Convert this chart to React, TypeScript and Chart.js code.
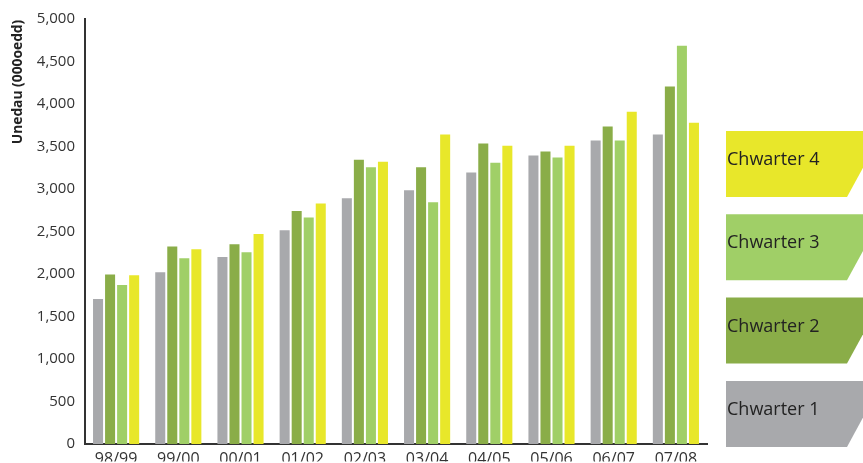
import React, { useEffect, useRef } from "react";
import { Chart, registerables } from "chart.js";

Chart.register(...registerables);

const categories = ["98/99", "99/00", "00/01", "01/02", "02/03", "03/04", "04/05", "05/06", "06/07", "07/08"];
const quarter1 = [1705, 2020, 2200, 2515, 2890, 2985, 3195, 3395, 3570, 3640];
const quarter2 = [1995, 2325, 2350, 2740, 3345, 3255, 3535, 3440, 3735, 4205];
const quarter3 = [1870, 2185, 2255, 2665, 3255, 2845, 3310, 3370, 3570, 4685];
const quarter4 = [1985, 2290, 2470, 2830, 3320, 3640, 3510, 3510, 3910, 3780];
const seriesNames = ["Chwarter 1", "Chwarter 2", "Chwarter 3", "Chwarter 4"];
const seriesColors = ["#A8A9AC", "#8AAD48", "#A0CF67", "#E8E72A"];
const yTitle = "Unedau (000oedd)";
const yMax = 5000;
const yStep = 500;

const FONT = "'Open Sans', 'Noto Sans', sans-serif";

const sideLegend = {
  id: "sideLegend",
  afterDraw(chart: any) {
    const ctx = chart.ctx;
    // y-axis title
    ctx.save();
    ctx.translate(18, 82);
    ctx.rotate(-Math.PI / 2);
    ctx.font = `bold 13.8px ${FONT}`;
    ctx.fillStyle = "#222";
    ctx.textAlign = "center";
    ctx.textBaseline = "middle";
    ctx.fillText(yTitle, 0, 0);
    ctx.restore();

    // legend boxes (top: Chwarter 4, bottom: Chwarter 1)
    const left = 726;
    const h = 66;
    const gap = 83.3;
    const firstTop = 131;
    ctx.save();
    for (let k = 0; k < 4; k++) {
      const idx = 3 - k;
      const top = firstTop + k * gap;
      const bottom = top + h;
      ctx.beginPath();
      ctx.moveTo(left, top);
      ctx.lineTo(883, top);
      ctx.lineTo(847, bottom);
      ctx.lineTo(left, bottom);
      ctx.closePath();
      ctx.fillStyle = seriesColors[idx];
      ctx.fill();
      ctx.font = `18px ${FONT}`;
      ctx.fillStyle = "#222";
      ctx.textAlign = "left";
      ctx.textBaseline = "alphabetic";
      ctx.fillText(seriesNames[idx], left + 1, top + 34);
    }
    ctx.restore();
  },
};

export default function App() {
  const ref = useRef<HTMLCanvasElement | null>(null);
  useEffect(() => {
    if (!ref.current) return;
    const chart = new Chart(ref.current, {
      type: "bar",
      data: {
        labels: categories,
        datasets: [quarter1, quarter2, quarter3, quarter4].map((d, i) => ({
          label: seriesNames[i],
          data: d,
          backgroundColor: seriesColors[i],
          borderWidth: 0,
          categoryPercentage: 0.774,
          barPercentage: 0.833,
        })),
      },
      options: {
        responsive: false,
        animation: false,
        devicePixelRatio: 1,
        layout: { padding: { top: 19, right: 156, bottom: 0, left: 0 } },
        plugins: { legend: { display: false }, tooltip: { enabled: false }, title: { display: false } },
        scales: {
          x: {
            grid: { display: false, drawTicks: false },
            border: { display: true, color: "#333", width: 2 },
            ticks: { color: "#333", font: { family: FONT, size: 16 }, padding: 6, maxRotation: 0 },
            afterFit(scale: any) {
              scale.height = 17.5;
            },
          },
          y: {
            min: 0,
            max: yMax,
            grid: { display: false, drawTicks: false },
            border: { display: true, color: "#333", width: 2 },
            ticks: {
              stepSize: yStep,
              color: "#333",
              font: { family: FONT, size: 15 },
              padding: 10,
              callback: (v: any) => Number(v).toLocaleString("en-US"),
            },
            afterFit(scale: any) {
              scale.width = 85;
            },
          },
        },
      },
      plugins: [sideLegend],
    });
    return () => chart.destroy();
  }, []);
  return (
    <div style={{ position: "absolute", left: 0, top: 0, width: 863, height: 463, background: "#fff" }}>
      <canvas ref={ref} width={863} height={463} style={{ width: 863, height: 463, display: "block" }} />
    </div>
  );
}
